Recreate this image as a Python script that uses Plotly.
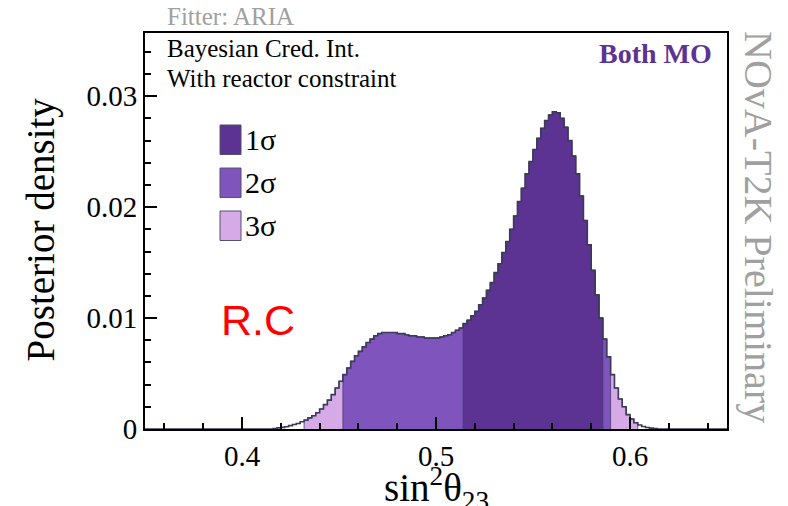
import numpy as np
import plotly.graph_objects as go

# ---------------- data ----------------
x_range = [0.35, 0.65]
bin_width = 0.002
first_bin_low = 0.416
density = [
    0.00005, 0.0001, 0.00015, 0.0002, 0.0003, 0.0004, 0.0005, 0.00065, 0.0008, 0.0010,
    0.0012, 0.00147, 0.0018, 0.0022, 0.0026, 0.0031, 0.0037, 0.0043, 0.0049, 0.0055,
    0.0061, 0.0066, 0.0070, 0.0074, 0.0078, 0.0081, 0.0084, 0.0086, 0.0087, 0.0087,
    0.0087, 0.0087, 0.0086, 0.0086, 0.0085, 0.0084, 0.0084, 0.0083, 0.0083, 0.0082,
    0.0082, 0.0082, 0.0082, 0.0083, 0.0084, 0.0085, 0.0087, 0.0089, 0.0091, 0.0095,
    0.0098, 0.0102, 0.0106, 0.0112, 0.0118, 0.0125, 0.0132, 0.0141, 0.0149, 0.0159,
    0.0169, 0.0180, 0.0192, 0.0205, 0.0217, 0.0230, 0.0241, 0.0252, 0.0262, 0.0271,
    0.0278, 0.0283, 0.0286, 0.0285, 0.0280, 0.0272, 0.0260, 0.0246, 0.0230, 0.0210,
    0.0188, 0.0166, 0.0143, 0.0121, 0.0100, 0.0081, 0.0065, 0.0049, 0.0037, 0.0027,
    0.0020, 0.0013, 0.0009, 0.00057, 0.00036, 0.00022, 0.00014, 0.00008, 0.00004,
]
ci_labels = ["1σ", "2σ", "3σ"]
ci_low = [0.514, 0.452, 0.432]
ci_high = [0.586, 0.590, 0.604]
ci_colors = ["#5c3392", "#7f54bd", "#d5aae6"]
y_max = 0.0357

# ---------------- build ----------------
density = np.array(density)
lows = first_bin_low + bin_width * np.arange(len(density))
highs = lows + bin_width

fig = go.Figure()

# filled credible regions, widest first
for lab, lo, hi, col in reversed(list(zip(ci_labels, ci_low, ci_high, ci_colors))):
    sel = (lows >= lo - 1e-9) & (highs <= hi + 1e-9)
    xs = list(lows[sel]) + [highs[sel][-1]]
    ys = list(density[sel]) + [density[sel][-1]]
    xs = [xs[0]] + xs + [xs[-1]]
    ys = [0] + ys + [0]
    fig.add_trace(go.Scatter(
        x=xs, y=ys, mode="lines", line=dict(shape="hv", color="rgba(70,55,105,0.75)", width=1),
        fill="toself", fillcolor=col, hoverinfo="skip", showlegend=False))

# histogram outline
xs = [x_range[0]] + list(lows) + [highs[-1], x_range[1]]
ys = [0] + list(density) + [0, 0]
fig.add_trace(go.Scatter(x=xs, y=ys, mode="lines",
                         line=dict(shape="hv", color="#3c3a5a", width=1.6),
                         hoverinfo="skip", showlegend=False))

serif = "Liberation Serif"
fig.update_layout(
    width=788, height=506,
    margin=dict(l=145, r=61, t=33, b=77),
    paper_bgcolor="white", plot_bgcolor="white",
    font=dict(family=serif, color="black"),
    showlegend=False,
)
fig.update_xaxes(
    range=x_range, showgrid=False, zeroline=False,
    showline=True, linecolor="black", linewidth=2, mirror=True,
    ticks="inside", ticklen=12, tickwidth=1.5, tickcolor="black",
    dtick=0.1, tick0=0,
    minor=dict(ticks="inside", ticklen=6, dtick=0.02, tick0=0, tickcolor="black", tickwidth=1.5),
    tickfont=dict(family=serif, size=29, color="black"),
)
fig.update_yaxes(
    range=[0, y_max], showgrid=False, zeroline=False,
    showline=True, linecolor="black", linewidth=2, mirror=True,
    ticks="inside", ticklen=12, tickwidth=1.5, tickcolor="black",
    dtick=0.01, tick0=0,
    minor=dict(ticks="inside", ticklen=6, dtick=0.002, tick0=0, tickcolor="black", tickwidth=1.5),
    tickfont=dict(family=serif, size=29, color="black"),
)

ann = []
ann.append(dict(text="Posterior density", xref="paper", yref="paper", x=-0.178, y=0.505,
                xanchor="center", yanchor="middle", textangle=-90, showarrow=False,
                font=dict(family=serif, size=39, color="black")))
ann.append(dict(text="sin<sup>2</sup>θ<sub>23</sub>", xref="paper", yref="paper", x=0.5, y=-0.075,
                xanchor="center", yanchor="top", showarrow=False,
                font=dict(family=serif, size=39, color="black")))
ann.append(dict(text="Fitter: ARIA", xref="paper", yref="paper", x=0.034, y=1.042,
                xanchor="left", yanchor="middle", showarrow=False,
                font=dict(family=serif, size=25, color="#a0a0a0")))
ann.append(dict(text="Bayesian Cred. Int.", xref="paper", yref="paper", x=0.034, y=0.96,
                xanchor="left", yanchor="middle", showarrow=False,
                font=dict(family=serif, size=25, color="black")))
ann.append(dict(text="With reactor constraint", xref="paper", yref="paper", x=0.034, y=0.886,
                xanchor="left", yanchor="middle", showarrow=False,
                font=dict(family=serif, size=25, color="black")))
ann.append(dict(text="<b>Both MO</b>", xref="paper", yref="paper", x=0.978, y=0.948,
                xanchor="right", yanchor="middle", showarrow=False,
                font=dict(family=serif, size=28, color="#5c3392")))
ann.append(dict(text="NOvA-T2K Preliminary", xref="paper", yref="paper", x=1.055, y=0.51,
                xanchor="center", yanchor="middle", textangle=90, showarrow=False,
                font=dict(family=serif, size=40, color="#a0a0a0")))
ann.append(dict(text="R.C", xref="paper", yref="paper", x=0.195, y=0.275,
                xanchor="center", yanchor="middle", showarrow=False,
                font=dict(family="Liberation Sans", size=43, color="#ff0000")))

# legend (manual, ROOT style)
leg_top = [0.7677, 0.659, 0.5505]
leg_h = 0.0745
shapes = []
for lab, col, top in zip(ci_labels, ci_colors, leg_top):
    shapes.append(dict(type="rect", xref="paper", yref="paper", x0=0.1289, x1=0.165,
                       y0=top - leg_h, y1=top, fillcolor=col,
                       line=dict(color="#55506a", width=1)))
    ann.append(dict(text=lab, xref="paper", yref="paper", x=0.168, y=top - leg_h / 2,
                    xanchor="left", yanchor="middle", showarrow=False,
                    font=dict(family=serif, size=30, color="black")))

fig.update_layout(annotations=ann, shapes=shapes)
fig.write_html("out.html")
